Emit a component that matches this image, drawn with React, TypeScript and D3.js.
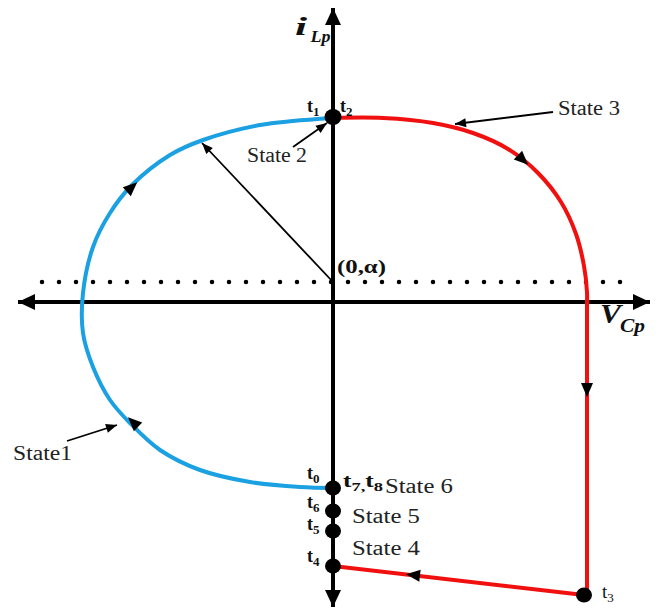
import React from "react";
import * as d3 from "d3";

// Phase-plane units: x = V_Cp, y = i_Lp (arbitrary normalized units)
const state12Curve: [number, number][] = [
  [0, 1.84], [-0.40, 1.81], [-0.73, 1.77], [-1.30, 1.62], [-1.63, 1.47],
  [-2.01, 1.17], [-2.23, 0.89], [-2.40, 0.55], [-2.50, 0.09], [-2.50, -0.31],
  [-2.40, -0.65], [-2.23, -0.98], [-2.03, -1.21], [-1.73, -1.48], [-1.33, -1.68],
  [-0.83, -1.80], [-0.33, -1.85], [0, -1.86],
];
const state3Curve: [number, number][] = [
  [0, 1.84], [0.5, 1.84], [1.0, 1.79], [1.4, 1.69], [1.75, 1.53], [2.05, 1.29],
  [2.28, 1.0], [2.43, 0.68], [2.51, 0.36], [2.54, 0.1], [2.54, 0.0],
];
const state3Tail: [number, number][] = [[2.54, 0.0], [2.54, -2.93], [2.51, -2.93], [0, -2.64]];
const center: [number, number] = [0, 0.2];
const radiusEnd: [number, number] = [-1.31, 1.59];
const dottedLine: [number, number][] = [[-2.91, 0.2], [3.04, 0.2]];
const hAxis: [number, number][] = [[-3.15, 0], [3.17, 0]];
const vAxis: [number, number][] = [[0, 2.94], [0, -3.05]];

const topDot: [number, number] = [0, 1.85];
const axisDots: [number, number][] = [[0, -1.86], [0, -2.09], [0, -2.29], [0, -2.64]];
const t3Dot: [number, number] = [2.51, -2.93];

// direction arrows on trajectory: [at, toward]
const blueArrows: [[number, number], [number, number]][] = [
  [[-2.01, 1.15], [-1.63, 1.49]],
  [[-2.00, -1.20], [-2.23, -0.98]],
];
const redArrows: [[number, number], [number, number]][] = [
  [[1.90, 1.42], [2.14, 1.19]],
  [[2.54, -0.88], [2.54, -1.2]],
  [[0.80, -2.73], [0, -2.64]],
];
// annotation pointers: [from, to]
const pointers: [[number, number], [number, number]][] = [
  [[-0.40, 1.55], [-0.06, 1.79]],
  [[2.20, 1.90], [1.22, 1.78]],
  [[-2.66, -1.39], [-2.16, -1.23]],
];

const stateLabels = ["State 2", "State 3", "State1", "State 6", "State 5", "State 4"];
const stateLabelPos: [number, number][] = [
  [-0.86, 1.40], [2.25, 1.87], [-3.20, -1.58], [0.52, -1.91], [0.19, -2.21], [0.19, -2.53],
];
const stateLabelWidth = [60, 62, 59, 68, 68, 68];

const tLabels: [string, string][] = [["t", "1"], ["t", "2"], ["t", "0"], ["t", "6"], ["t", "5"], ["t", "4"]];
const tLabelPos: [number, number][] = [
  [-0.26, 1.90], [0.07, 1.90], [-0.26, -1.77], [-0.26, -2.06], [-0.26, -2.28], [-0.26, -2.60],
];

const W = 659;
const H = 613;
const x = d3.scaleLinear().domain([-3.33, 3.26]).range([0, W]);
const y = d3.scaleLinear().domain([3.02, -3.11]).range([0, H]);

const BLUE = "#1BA1E2";
const RED = "#F01010";
const FONT = "'Liberation Serif', 'Times New Roman', serif";

function tri(p: [number, number], q: [number, number], len: number, hw: number, tipAtP: boolean) {
  const px = x(p[0]), py = y(p[1]);
  const qx = x(q[0]), qy = y(q[1]);
  const a = Math.atan2(qy - py, qx - px);
  const ux = Math.cos(a), uy = Math.sin(a);
  let tx: number, ty: number;
  if (tipAtP) {
    tx = px; ty = py;
  } else {
    tx = px + ux * len / 2; ty = py + uy * len / 2;
  }
  const bx = tx - ux * len, by = ty - uy * len;
  return `M${tx},${ty}L${bx - uy * hw},${by + ux * hw}L${bx + uy * hw},${by - ux * hw}Z`;
}

export default function App() {
  const curve = d3.line<[number, number]>().x((d) => x(d[0])).y((d) => y(d[1])).curve(d3.curveCatmullRom.alpha(0.5));
  const lin = d3.line<[number, number]>().x((d) => x(d[0])).y((d) => y(d[1]));

  const axisEnds: [[number, number], [number, number]][] = [
    [hAxis[1], hAxis[0]],
    [hAxis[0], hAxis[1]],
    [vAxis[0], vAxis[1]],
    [vAxis[1], vAxis[0]],
  ];

  return (
    <svg width={W} height={H} style={{ position: "fixed", left: 0, top: 0, background: "#fff" }} fontFamily={FONT}>
      <rect width={W} height={H} fill="#fff" />
      {/* dotted line */}
      <path d={lin(dottedLine)!} stroke="#000" strokeWidth={4.5} strokeLinecap="round" strokeDasharray="0 17" fill="none" />
      {/* axes */}
      <path d={lin(hAxis)!} stroke="#000" strokeWidth={4} fill="none" />
      <path d={lin(vAxis)!} stroke="#000" strokeWidth={4} fill="none" />
      {axisEnds.map((s, i) => (
        // tip at s[0], base toward s[1]
        <path key={i} d={tri(s[0], s[1], -17, 8, true)} fill="#000" />
      ))}
      {/* curves */}
      <path d={curve(state12Curve)!} stroke={BLUE} strokeWidth={4} fill="none" />
      <path d={curve(state3Curve)!} stroke={RED} strokeWidth={4} fill="none" />
      <path d={lin(state3Tail)!} stroke={RED} strokeWidth={4} fill="none" strokeLinejoin="round" />
      {/* direction arrows */}
      {blueArrows.concat(redArrows).map((a, i) => (
        <path key={i} d={tri(a[0], a[1], 14, 6, false)} fill="#000" />
      ))}
      {/* radius arrow */}
      <line x1={x(center[0])} y1={y(center[1])} x2={x(radiusEnd[0])} y2={y(radiusEnd[1])} stroke="#000" strokeWidth={1.8} />
      <path d={tri(radiusEnd, center, -11, 4.5, true)} fill="#000" />
      {/* pointers */}
      {pointers.map((p, i) => (
        <g key={i}>
          <line x1={x(p[0][0])} y1={y(p[0][1])} x2={x(p[1][0])} y2={y(p[1][1])} stroke="#000" strokeWidth={1.8} />
          <path d={tri(p[1], p[0], -11, 4.5, true)} fill="#000" />
        </g>
      ))}
      {/* dots */}
      <ellipse cx={x(topDot[0])} cy={y(topDot[1])} rx={8.5} ry={8} fill="#000" />
      {axisDots.map((d, i) => (
        <ellipse key={i} cx={x(d[0])} cy={y(d[1])} rx={8} ry={7.5} fill="#000" />
      ))}
      <ellipse cx={x(t3Dot[0])} cy={y(t3Dot[1])} rx={8} ry={7.5} fill="#000" />
      {/* state labels */}
      {stateLabels.map((s, i) => (
        <text key={i} x={x(stateLabelPos[i][0])} y={y(stateLabelPos[i][1])} fontSize={20} fill="#222"
          textLength={stateLabelWidth[i]} lengthAdjust="spacingAndGlyphs">{s}</text>
      ))}
      {/* t labels */}
      {tLabels.map((t, i) => (
        <text key={i} x={x(tLabelPos[i][0])} y={y(tLabelPos[i][1])} fontSize={18} fontWeight="bold" fill="#111">
          {t[0]}<tspan fontSize={13} dy={4}>{t[1]}</tspan>
        </text>
      ))}
      <text x={x(0.10)} y={y(-1.85)} fontSize={18} fontWeight="bold" fill="#111" textLength={40} lengthAdjust="spacingAndGlyphs">
        t<tspan fontSize={13} dy={4}>7,</tspan><tspan dy={-4}>t</tspan><tspan fontSize={13} dy={4}>8</tspan>
      </text>
      <text x={x(2.69)} y={y(-2.96)} fontSize={19} fill="#111">
        t<tspan fontSize={13} dy={4}>3</tspan>
      </text>
      {/* (0,α) */}
      <text x={x(0.04)} y={y(0.29)} fontSize={18} fontWeight="bold" fill="#111" textLength={49} lengthAdjust="spacingAndGlyphs">(0,α)</text>
      {/* axis titles */}
      <text x={x(-0.38)} y={y(2.67)} fontSize={25} fontWeight="bold" fontStyle="italic" fill="#111"
        textLength={12} lengthAdjust="spacingAndGlyphs">i</text>
      <text x={x(-0.225)} y={y(2.60)} fontSize={16} fontWeight="bold" fontStyle="italic" fill="#111"
        textLength={20} lengthAdjust="spacingAndGlyphs">Lp</text>
      <text x={x(2.67)} y={y(-0.21)} fontSize={27} fontWeight="bold" fontStyle="italic" fill="#111"
        textLength={21} lengthAdjust="spacingAndGlyphs">V</text>
      <text x={x(2.87)} y={y(-0.30)} fontSize={19} fontWeight="bold" fontStyle="italic" fill="#111"
        textLength={25} lengthAdjust="spacingAndGlyphs">Cp</text>
    </svg>
  );
}
